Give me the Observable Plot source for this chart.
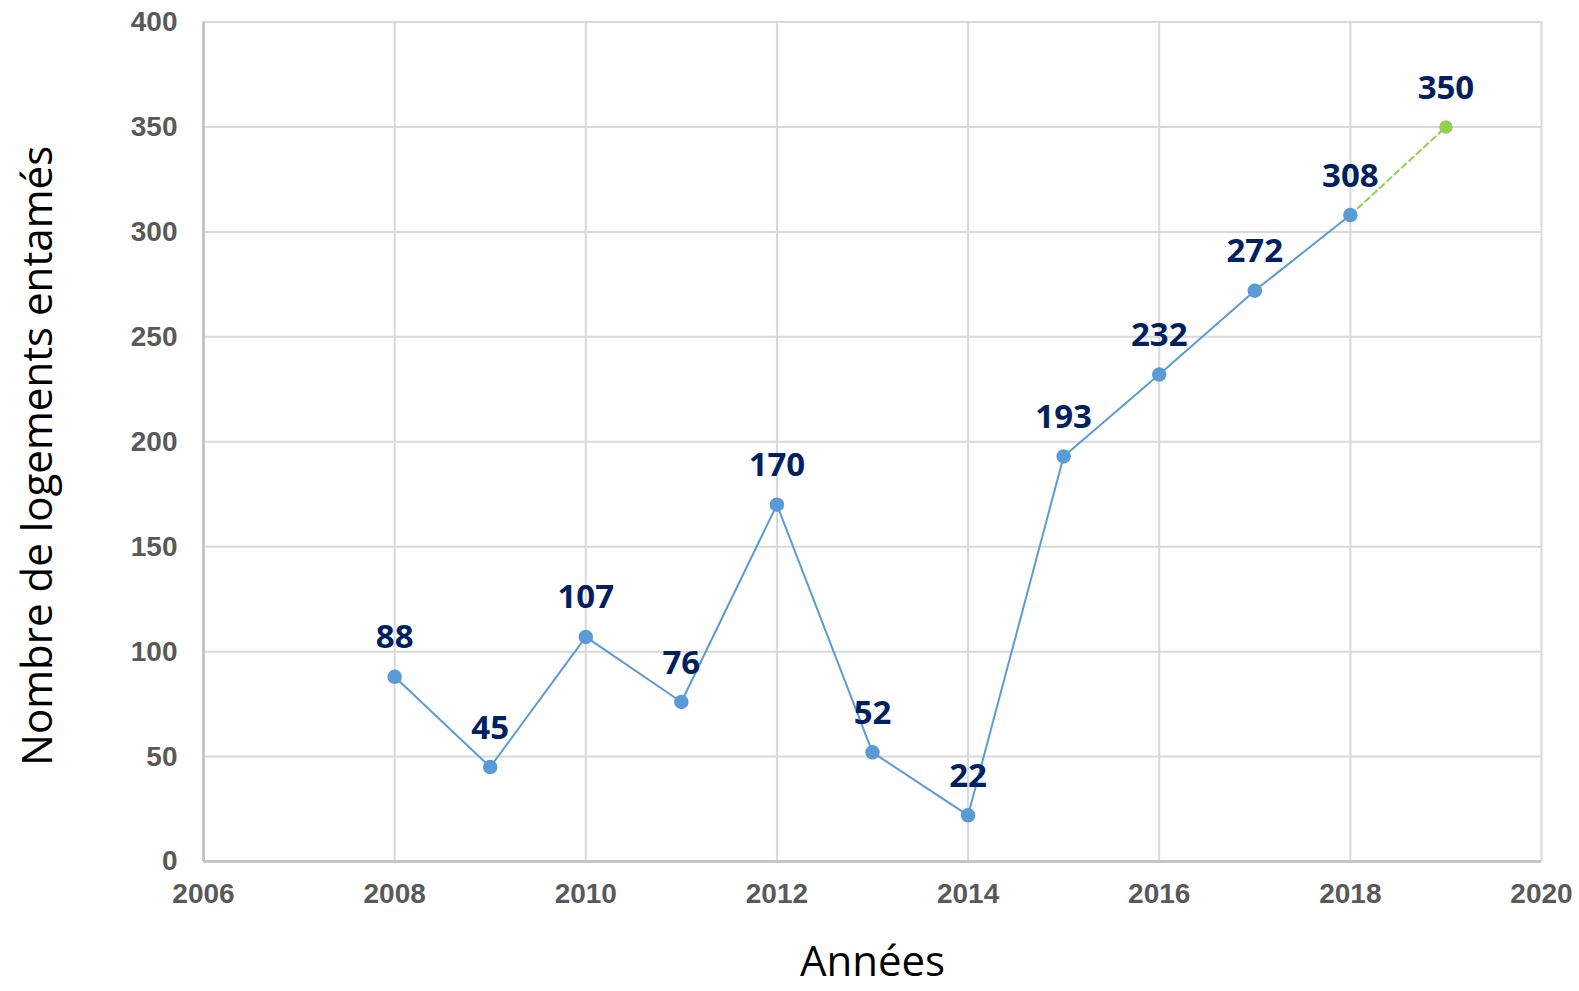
<!DOCTYPE html>
<html>
<head>
<meta charset="utf-8">
<script src="https://cdn.jsdelivr.net/npm/d3@7"></script>
<script src="https://cdn.jsdelivr.net/npm/@observablehq/plot@0.6"></script>
<style>
  html, body { margin: 0; padding: 0; background: #fff; }
  #chart svg { display: block; }
</style>
</head>
<body>
<div id="chart"></div>
<script>
const years = [2008, 2009, 2010, 2011, 2012, 2013, 2014, 2015, 2016, 2017, 2018];
const values = [88, 45, 107, 76, 170, 52, 22, 193, 232, 272, 308];
const projYears = [2018, 2019];
const projValues = [308, 350];
const xTicks = [2006, 2008, 2010, 2012, 2014, 2016, 2018, 2020];
const yTicks = [0, 50, 100, 150, 200, 250, 300, 350, 400];
const xTitle = "Années";
const yTitle = "Nombre de logements entamés";

const observed = years.map((year, i) => ({year, value: values[i]}));
const projected = projYears.map((year, i) => ({year, value: projValues[i]}));
const labelled = observed.concat([projected[1]]);

const chart = Plot.plot({
  width: 1579,
  height: 991,
  marginLeft: 203,
  marginRight: 38,
  marginTop: 21.5,
  marginBottom: 130,
  style: {fontFamily: "'Liberation Sans', Arial, sans-serif", background: "#fff"},
  x: {domain: [2006, 2020]},
  y: {domain: [0, 400]},
  marks: [
    Plot.gridX(xTicks, {stroke: "#d9d9d9", strokeOpacity: 1, strokeWidth: 2}),
    Plot.gridY(yTicks, {stroke: "#d9d9d9", strokeOpacity: 1, strokeWidth: 2}),
    Plot.ruleY([0], {stroke: "#bfbfbf", strokeWidth: 2.5}),
    Plot.ruleX([2006], {stroke: "#bfbfbf", strokeWidth: 2.5}),
    Plot.line(projected, {x: "year", y: "value", stroke: "#92d050", strokeWidth: 2, strokeDasharray: "6,4"}),
    Plot.line(observed, {x: "year", y: "value", stroke: "#5b9bd5", strokeWidth: 2}),
    Plot.dot(observed, {x: "year", y: "value", r: 6.5, fill: "#5b9bd5", stroke: "#5b9bd5"}),
    Plot.dot([projected[1]], {x: "year", y: "value", r: 6, fill: "#92d050", stroke: "#92d050"}),
    Plot.text(labelled, {x: "year", y: "value", text: d => String(d.value), dy: -39,
      fontFamily: "'Open Sans', sans-serif", fontWeight: "bold", fontSize: 33, fill: "#002060"}),
    Plot.axisX(xTicks, {tickSize: 0, tickPadding: 22, fontSize: 28, fontWeight: "bold", color: "#595959",
      tickFormat: d => String(d), label: null}),
    Plot.axisY(yTicks, {tickSize: 0, tickPadding: 26, fontSize: 28, fontWeight: "bold", color: "#595959",
      tickFormat: d => String(d), label: null}),
    Plot.text([yTitle], {frameAnchor: "left", textAnchor: "middle", lineAnchor: "middle", rotate: -90,
      dx: -165, dy: 14, fontSize: 42, fontFamily: "'Open Sans', sans-serif", fill: "#000"}),
    Plot.text([xTitle], {frameAnchor: "bottom", textAnchor: "middle", lineAnchor: "middle", dy: 101, fontSize: 42,
      fontFamily: "'Open Sans', sans-serif", fill: "#000"})
  ]
});
document.getElementById("chart").appendChild(chart);
</script>
</body>
</html>
